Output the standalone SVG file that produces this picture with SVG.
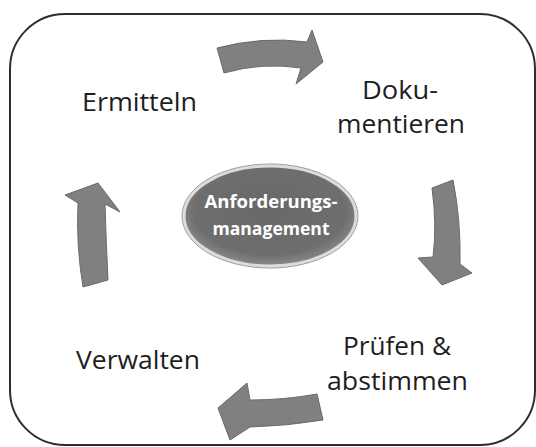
<svg xmlns="http://www.w3.org/2000/svg" width="536" height="447" viewBox="0 0 536 447">
<defs>
<radialGradient id="eg" cx="50%" cy="45%" r="55%">
<stop offset="0%" stop-color="#686868"/>
<stop offset="80%" stop-color="#6e6e6e"/>
<stop offset="100%" stop-color="#8a8a8a"/>
</radialGradient>
</defs>
<style>
.lbl{font-family:"Open Sans","Liberation Sans",sans-serif;font-size:25px;fill:#1e1e1e}
.ctr{font-family:"Open Sans","Liberation Sans",sans-serif;font-size:18.5px;font-weight:bold;fill:#ffffff;text-anchor:middle}
.arr{fill:#808080;stroke:#6a6a6a;stroke-width:1;stroke-linejoin:round}
</style>
<rect x="0" y="0" width="536" height="447" fill="#ffffff"/>
<rect id="frame" x="10" y="14" width="525" height="431" rx="55" ry="55" fill="none" stroke="#2e2e2e" stroke-width="2"/>
<g id="connectors">
<path class="arr" d="M217,48 Q262,36 307,42 L312,30 L323,62 L296,84 L301,68 Q262,62 224,73 Z"/>
<path class="arr" d="M432,188 Q437,225 433,257 L418,258 L442,285 L472,273 L460,264 Q461,220 453,180 Z"/>
<path class="arr" d="M317,394 Q285,400 250,400 L247,383 L218,408 L230,440 L250,427 Q287,426 323,420 Z"/>
<path class="arr" d="M83,287 Q76,245 78,203 L65,195 L98,183 L120,212 L105,204 Q106,240 108,280 Z"/>
</g>
<g id="center">
<ellipse cx="270" cy="216" rx="86" ry="50" fill="url(#eg)" stroke="#dcdcdc" stroke-width="3"/>
<ellipse cx="270" cy="216" rx="88" ry="52" fill="none" stroke="#9a9a9a" stroke-width="1"/>
<text class="ctr" x="271" y="208" textLength="133" lengthAdjust="spacingAndGlyphs">Anforderungs-</text>
<text class="ctr" x="271" y="235" textLength="117" lengthAdjust="spacingAndGlyphs">management</text>
</g>
<g id="ermitteln">
<text class="lbl" x="82" y="111" textLength="115" lengthAdjust="spacingAndGlyphs">Ermitteln</text>
</g>
<g id="dokumentieren">
<text class="lbl" x="362" y="99" textLength="76" lengthAdjust="spacingAndGlyphs">Doku-</text>
<text class="lbl" x="337" y="133" textLength="128" lengthAdjust="spacingAndGlyphs">mentieren</text>
</g>
<g id="pruefen">
<text class="lbl" x="343" y="355" textLength="108" lengthAdjust="spacingAndGlyphs">Prüfen &amp;</text>
<text class="lbl" x="327" y="390" textLength="141" lengthAdjust="spacingAndGlyphs">abstimmen</text>
</g>
<g id="verwalten">
<text class="lbl" x="76" y="369" textLength="124" lengthAdjust="spacingAndGlyphs">Verwalten</text>
</g>
</svg>
